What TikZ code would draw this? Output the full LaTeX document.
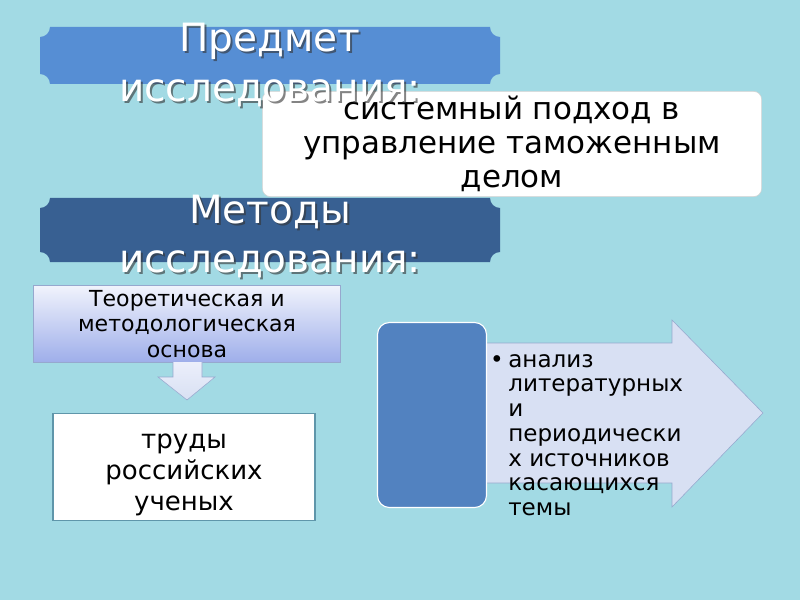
\documentclass[tikz,border=0pt]{standalone}
\usepackage{fontspec}
\setmainfont{DejaVu Sans}
\definecolor{water}{RGB}{162,218,228}
\definecolor{plaqueA}{RGB}{86,142,212}
\definecolor{plaqueB}{RGB}{56,96,146}
\definecolor{blockblue}{RGB}{82,130,192}
\definecolor{pale}{RGB}{216,224,243}
\definecolor{paleline}{RGB}{150,168,206}
\definecolor{lilac}{RGB}{158,174,234}
\definecolor{tealline}{RGB}{95,150,170}
\begin{document}
\begin{tikzpicture}[
        x=0.025cm, y=0.025cm,
        heading/.style={
            text=white,
            align=center,
            font=\fontsize{27.7}{34.9}\selectfont
        },
        headshadow/.style={
            heading,
            text=black!80,
            opacity=0.6
        },
        subjectbox/.style={
            draw=gray!35,
            fill=white,
            rounded corners=0.2cm,
            minimum width=12.475cm,
            minimum height=1.8cm,
            align=center,
            font=\fontsize{22}{24.2}\selectfont
        },
        theorybox/.style={
            draw=paleline,
            top color=white!85!lilac,
            bottom color=lilac,
            minimum width=7.675cm,
            minimum height=1.875cm,
            align=center,
            font=\fontsize{15.7}{18.1}\selectfont
        },
        worksbox/.style={
            draw=tealline,
            thick,
            fill=white,
            minimum width=6.55cm,
            minimum height=2.675cm,
            align=center,
            font=\fontsize{18.5}{22}\selectfont
        },
        bluebox/.style={
            draw=white,
            thick,
            fill=blockblue,
            rounded corners=0.3cm,
            minimum width=2.725cm,
            minimum height=4.625cm
        },
        blockarrow/.style={
            draw=paleline,
            fill=pale
        }
    ]
        % Background
        \fill[water] (0,0) rectangle (800,600);
        \useasboundingbox (0,0) rectangle (800,600);

        % Plaques
        \fill[plaqueA] (40,526) arc[start angle=90,end angle=0,radius=10]
            -- (490,516) arc[start angle=180,end angle=90,radius=10]
            -- (500,563) arc[start angle=270,end angle=180,radius=10]
            -- (50,573) arc[start angle=0,end angle=-90,radius=10] -- cycle;
        \fill[plaqueB] (40,348) arc[start angle=90,end angle=0,radius=10]
            -- (490,338) arc[start angle=180,end angle=90,radius=10]
            -- (500,392) arc[start angle=270,end angle=180,radius=10]
            -- (50,402) arc[start angle=0,end angle=-90,radius=10] -- cycle;

        % Subject
        \node[subjectbox] (subject) at (512,456) {системный подход в\\управление таможенным\\делом};
        \node[headshadow] (subjshadow) at (272,533) {Предмет\\исследования:};
        \node[heading] (subjtitle) at (270,535) {Предмет\\исследования:};

        % Methods
        \node[headshadow] (methshadow) at (272,361.5) {Методы\\исследования:};
        \node[heading] (methtitle) at (270,363.5) {Методы\\исследования:};

        % Left column
        \node[theorybox] (theory) at (187,276) {Теоретическая и\\методологическая\\основа};
        \draw[blockarrow, top color=white!80!lilac, bottom color=pale] (173,238) -- (173,223) -- (158,223) -- (187,200)
            -- (215,223) -- (202,223) -- (202,238);
        \node[worksbox] (works) at (184,133) {\rule{0pt}{22pt}труды\\российских\\ученых};

        % Right arrow
        \draw[blockarrow] (440,257) -- (672,257) -- (672,280) -- (763,187)
            -- (672,93) -- (672,117) -- (440,117) -- cycle;
        \node[bluebox] (blue) at (432,185) {};
        \node[font=\fontsize{16.4}{17.6}\selectfont, anchor=base] (dot) at (497,233) {•};
        \node[font=\fontsize{16.4}{17.6}\selectfont, align=left, anchor=west, inner sep=0] (analysis) at (508,165)
            {анализ\\литературных\\и\\периодически\\х источников\\касающихся\\темы};
    \end{tikzpicture}
\end{document}
